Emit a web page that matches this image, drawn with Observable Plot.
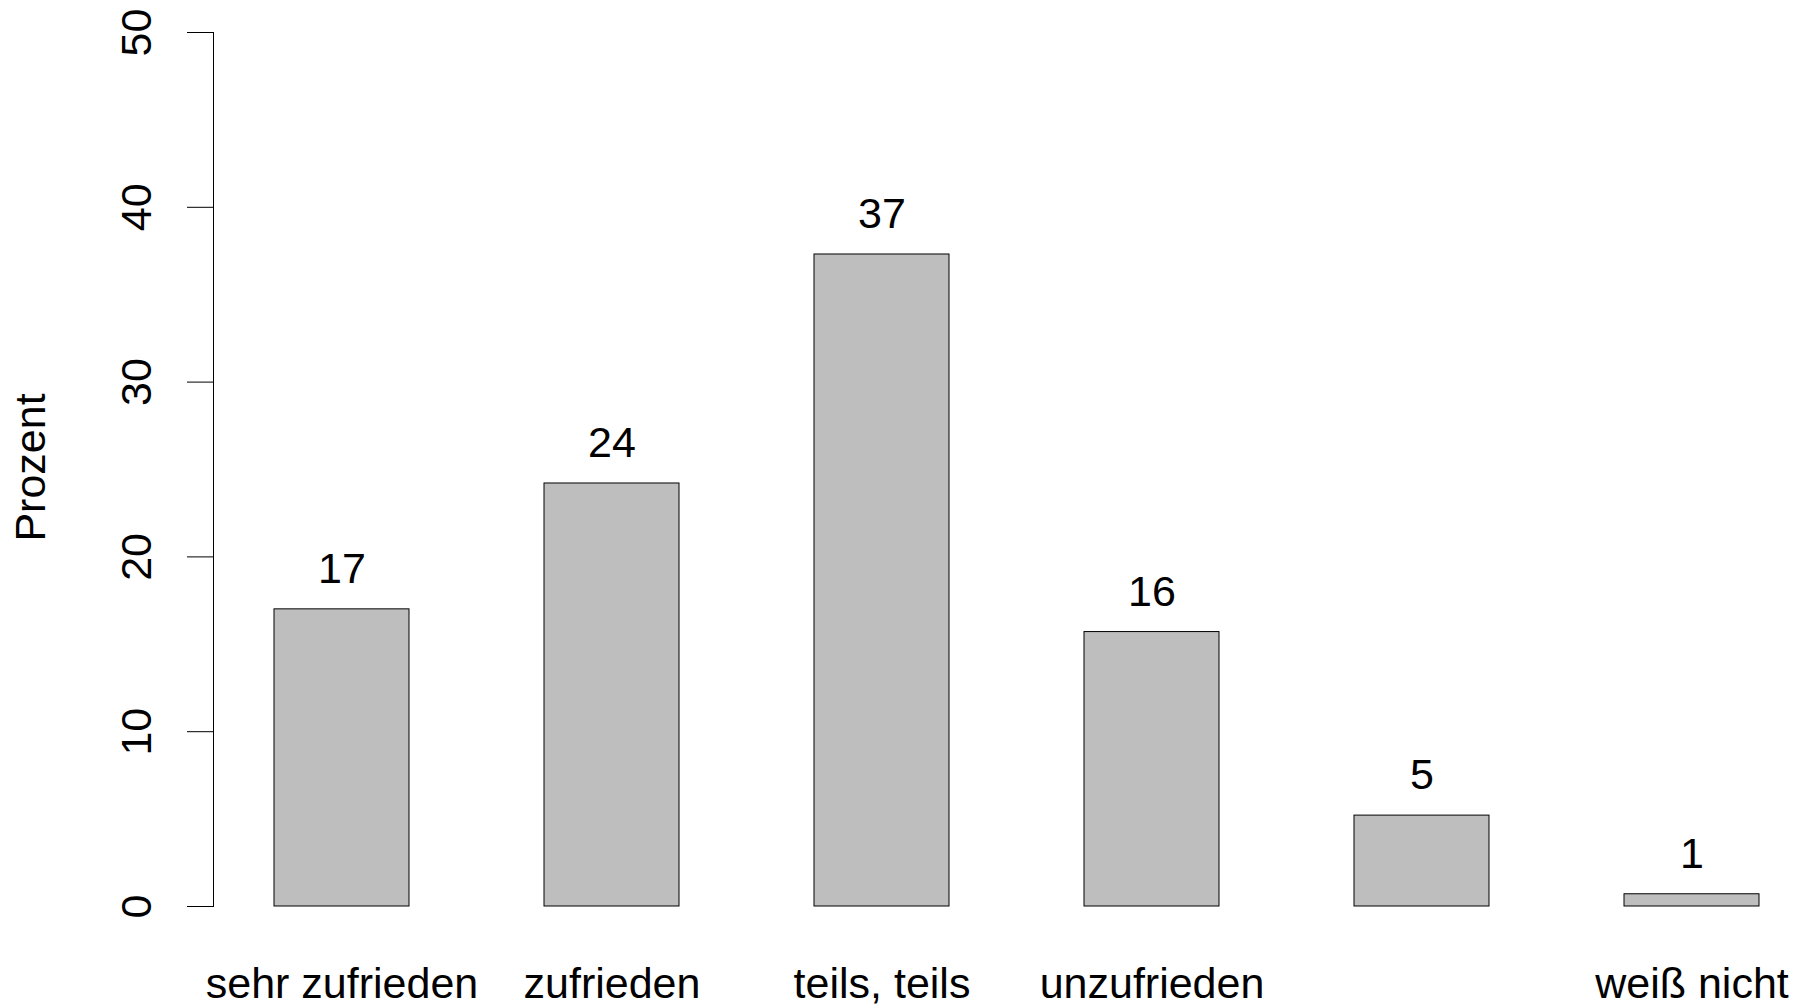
<!DOCTYPE html>
<html>
<head>
<meta charset="utf-8">
<script src="https://cdn.jsdelivr.net/npm/d3@7"></script>
<script src="https://cdn.jsdelivr.net/npm/@observablehq/plot@0.6"></script>
<style>
  html, body { margin: 0; padding: 0; background: #fff; }
  #chart { width: 1810px; height: 1007px; }
</style>
</head>
<body>
<div id="chart"></div>
<script>
// Categories (5th label is not printed in the reference: R dropped it for overlap)
const categories = ["sehr zufrieden", "zufrieden", "teils, teils", "unzufrieden", "sehr unzufrieden", "weiß nicht"];
const tickLabels = ["sehr zufrieden", "zufrieden", "teils, teils", "unzufrieden", "", "weiß nicht"];
const values = [17.0, 24.2, 37.3, 15.7, 5.2, 0.7];
const yTicks = [0, 10, 20, 30, 40, 50];
const yLabel = "Prozent";

const data = categories.map((c, i) => ({category: c, value: values[i], label: String(Math.round(values[i]))}));
const labelOf = new Map(categories.map((c, i) => [c, tickLabels[i]]));

const FONT = "'Liberation Sans', Arial, Helvetica, sans-serif";

const chart = Plot.plot({
  width: 1810,
  height: 1007,
  marginTop: 32,
  marginBottom: 101,
  marginLeft: 213,
  marginRight: 0,
  style: {fontFamily: FONT, fontSize: "43px", color: "#000", background: "#fff"},
  x: {domain: categories, range: [213, 1820], paddingInner: 0.5, paddingOuter: 0.2205, label: null},
  y: {domain: [0, 50], nice: false, label: null},
  marks: [
    Plot.barY(data, {x: "category", y: "value", fill: "#bebebe", stroke: "#000", strokeWidth: 1}),
    Plot.text(data, {x: "category", y: "value", text: "label", dy: -40, fontSize: 43, fill: "#000"}),
    Plot.axisX({tickSize: 0, tickPadding: 61, tickFormat: d => labelOf.get(d), fontSize: 43, label: null}),
    Plot.axisY({ticks: yTicks, tickSize: 26, tickFormat: () => "", label: null}),
    Plot.text(yTicks, {y: d => d, text: d => String(d), frameAnchor: "left", textAnchor: "middle", lineAnchor: "middle", dx: -76, rotate: -90, fontSize: 43, fill: "#000"}),
    Plot.text([yLabel], {text: d => d, frameAnchor: "left", textAnchor: "middle", lineAnchor: "middle", dx: -182, dy: -2, rotate: -90, fontSize: 43, fill: "#000"}),
    Plot.frame({anchor: "left", stroke: "#000", strokeWidth: 1})
  ]
});
document.getElementById("chart").appendChild(chart);
</script>
</body>
</html>
